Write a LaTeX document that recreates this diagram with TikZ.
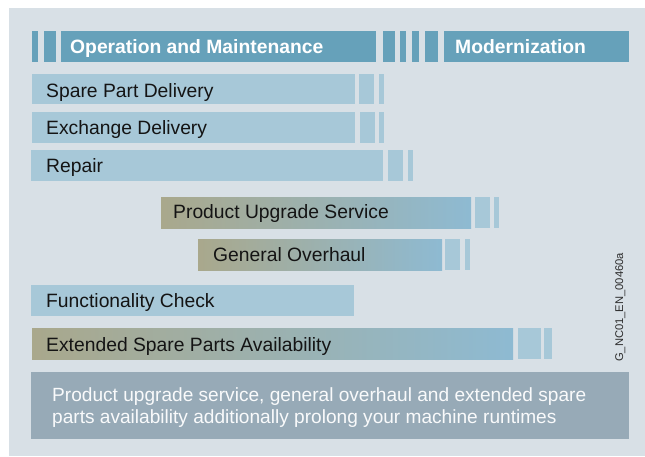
\documentclass[tikz,border=0pt]{standalone}
\usepackage{fontspec}
\setmainfont{Liberation Sans}
\definecolor{panel}{HTML}{D8E0E6}
\definecolor{head}{HTML}{66A1BA}
\definecolor{light}{HTML}{A7C8D8}
\definecolor{olive}{HTML}{A9A88C}
\definecolor{gblue}{HTML}{8EBAD2}
\definecolor{note}{HTML}{97AAB7}
\definecolor{ink}{HTML}{141414}
\begin{document}
\begin{tikzpicture}[x=1pt,y=-1pt,
  box/.style={rectangle,anchor=north west,inner sep=0pt,outer sep=0pt,draw=none},
  hbar/.style={box,fill=head},
  lbar/.style={box,fill=light},
  gbar/.style={box,left color=olive,right color=gblue},
  nbar/.style={box,fill=note},
  htext/.style={anchor=base west,inner sep=0pt,text=white,font=\fontsize{19.3}{22}\selectfont\bfseries},
  btext/.style={anchor=base west,inner sep=0pt,text=ink,font=\fontsize{19.3}{22}\selectfont},
  ntext/.style={anchor=base west,inner sep=0pt,text=white!94!note,font=\fontsize{19.1}{22}\selectfont},
  vtext/.style={anchor=base west,inner sep=0pt,rotate=90,text=ink!90,font=\fontsize{11.2}{13}\selectfont}]
\useasboundingbox (0,0) rectangle (645,456);
\fill[panel] (9,8) rectangle (645,456);
% header row
\node[hbar,minimum width=6pt,minimum height=31pt] (h1) at (32,31) {};
\node[hbar,minimum width=12pt,minimum height=31pt] (h2) at (44,31) {};
\node[hbar,minimum width=315pt,minimum height=31pt] (om) at (61,31) {};
\node[hbar,minimum width=12pt,minimum height=31pt] (h3) at (383,31) {};
\node[hbar,minimum width=6pt,minimum height=31pt] (h4) at (400,31) {};
\node[hbar,minimum width=7pt,minimum height=31pt] (h5) at (412,31) {};
\node[hbar,minimum width=13pt,minimum height=31pt] (h6) at (425,31) {};
\node[hbar,minimum width=185pt,minimum height=31pt] (mo) at (444,31) {};
\node[htext] (omt) at (70,53.5) {Operation and Maintenance};
\node[htext] (mot) at (455,53.5) {Modernization};
% row 1
\node[lbar,minimum width=323pt,minimum height=30pt] (r1) at (32,74) {};
\node[lbar,minimum width=15pt,minimum height=30pt] (r1a) at (359,74) {};
\node[lbar,minimum width=5pt,minimum height=30pt] (r1b) at (379,74) {};
\node[btext] (r1t) at (46,97) {Spare Part Delivery};
% row 2
\node[lbar,minimum width=323pt,minimum height=31pt] (r2) at (32,112) {};
\node[lbar,minimum width=15pt,minimum height=31pt] (r2a) at (360,112) {};
\node[lbar,minimum width=5pt,minimum height=31pt] (r2b) at (379,112) {};
\node[btext] (r2t) at (46,134.5) {Exchange Delivery};
% row 3
\node[lbar,minimum width=352pt,minimum height=31pt] (r3) at (31,150) {};
\node[lbar,minimum width=15pt,minimum height=31pt] (r3a) at (388,150) {};
\node[lbar,minimum width=5pt,minimum height=31pt] (r3b) at (408,150) {};
\node[btext] (r3t) at (46,172.5) {Repair};
% row 4
\node[gbar,minimum width=310pt,minimum height=31pt] (r4) at (161,197) {};
\node[lbar,minimum width=15pt,minimum height=31pt] (r4a) at (475,197) {};
\node[lbar,minimum width=5pt,minimum height=31pt] (r4b) at (494,197) {};
\node[btext] (r4t) at (173,218.5) {Product Upgrade Service};
% row 5
\node[gbar,minimum width=244pt,minimum height=31pt] (r5) at (198,239) {};
\node[lbar,minimum width=15pt,minimum height=31pt] (r5a) at (445,239) {};
\node[lbar,minimum width=5pt,minimum height=31pt] (r5b) at (465,239) {};
\node[btext] (r5t) at (213,261.5) {General Overhaul};
% row 6
\node[lbar,minimum width=323pt,minimum height=31pt] (r6) at (31,285) {};
\node[btext] (r6t) at (46,307.5) {Functionality Check};
% row 7
\node[gbar,minimum width=481pt,minimum height=31pt] (r7) at (32,328) {};
\node[lbar,minimum width=23pt,minimum height=31pt] (r7a) at (518,328) {};
\node[lbar,minimum width=8pt,minimum height=31pt] (r7b) at (544,328) {};
\node[btext] (r7t) at (46,351.5) {Extended Spare Parts Availability};
% code
\node[vtext] (code) at (623,362) {G\_NC01\_EN\_00460a};
% note box
\node[nbar,minimum width=598pt,minimum height=67pt] (nb) at (31,372) {};
\node[ntext] (nt1) at (52,401) {Product upgrade service, general overhaul and extended spare};
\node[ntext] (nt2) at (52,423) {parts availability additionally prolong your machine runtimes};
\end{tikzpicture}
\end{document}
